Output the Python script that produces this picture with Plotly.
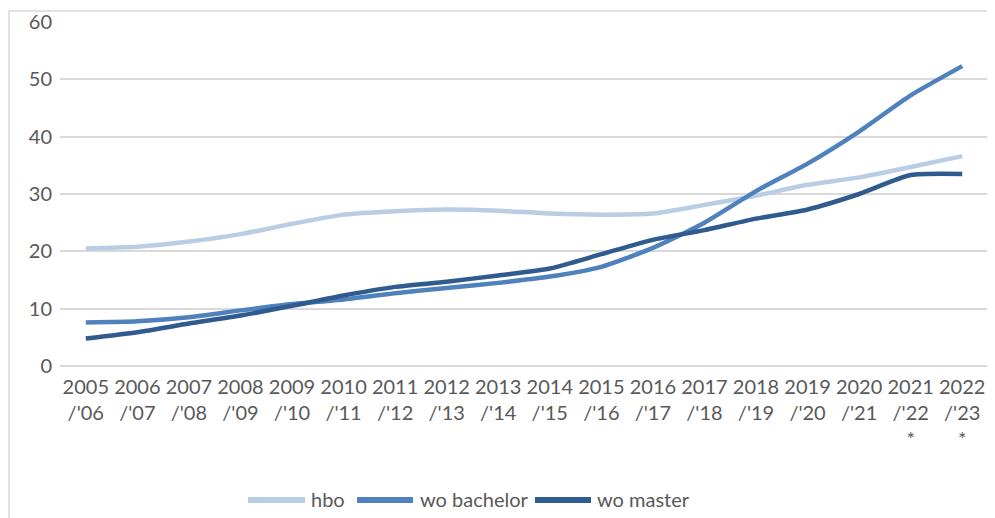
import plotly.graph_objects as go

years = ["2005<br>/'06", "2006<br>/'07", "2007<br>/'08", "2008<br>/'09", "2009<br>/'10",
         "2010<br>/'11", "2011<br>/'12", "2012<br>/'13", "2013<br>/'14", "2014<br>/'15",
         "2015<br>/'16", "2016<br>/'17", "2017<br>/'18", "2018<br>/'19", "2019<br>/'20",
         "2020<br>/'21", "2021<br>/'22<br>*", "2022<br>/'23<br>*"]

hbo = [20.5, 20.8, 21.7, 23.0, 24.8, 26.4, 27.0, 27.3, 27.1, 26.6, 26.4, 26.6,
       28.1, 29.7, 31.6, 32.9, 34.7, 36.6]
wo_bachelor = [7.6, 7.8, 8.5, 9.7, 10.8, 11.6, 12.7, 13.6, 14.5, 15.6, 17.3, 20.6,
               25.0, 30.5, 35.3, 40.9, 47.2, 52.3]
wo_master = [4.8, 5.9, 7.4, 8.8, 10.5, 12.3, 13.8, 14.7, 15.8, 17.0, 19.5, 22.0,
             23.7, 25.7, 27.3, 30.0, 33.3, 33.5]

series = [("hbo", hbo, "#B9CDE5"), ("wo bachelor", wo_bachelor, "#4F81BD"),
          ("wo master", wo_master, "#2F5B8F")]

# figure geometry (the page adds an 8px body margin)
OFF = 8
FW, FH = 995, 518
L, R, T, B = 52, 15, 14, 160
W, H = FW - L - R, FH - T - B

def px(x):  # screen pixel -> paper x
    return (x - OFF - L) / W

def py(y):  # screen pixel -> paper y
    return (FH - B - (y - OFF)) / H

fig = go.Figure()
for name, vals, col in series:
    fig.add_trace(go.Scatter(x=years, y=vals, name=name, mode="lines", showlegend=False,
                             line=dict(color=col, width=4.5, shape="spline", smoothing=0.6)))

shapes = [dict(type="rect", xref="paper", yref="paper", x0=px(9), x1=1.1,
               y0=-0.7, y1=py(11), line=dict(color="#D9D9D9", width=1.5), layer="below")]
annotations = []
legend_pos = [(248, 305, 309), (357, 413, 418), (535, 591, 595)]
ly = 500
for (name, _, col), (x0, x1, xt) in zip(series, legend_pos):
    shapes.append(dict(type="line", xref="paper", yref="paper", x0=px(x0), x1=px(x1),
                       y0=py(ly), y1=py(ly), line=dict(color=col, width=6)))
    annotations.append(dict(text=name, xref="paper", yref="paper", x=px(xt), y=py(ly - 1),
                            xanchor="left", yanchor="middle", showarrow=False,
                            font=dict(size=20, color="#595959")))

fig.update_layout(
    width=FW, height=FH,
    margin=dict(l=L, r=R, t=T, b=B, autoexpand=False),
    paper_bgcolor="white", plot_bgcolor="white",
    font=dict(family="Lato", size=20, color="#595959"),
    showlegend=False,
    xaxis=dict(type="category", range=[-0.5, 17.5], showgrid=False, showline=False, ticks="",
               tickfont=dict(size=20, color="#595959"), tickangle=0, fixedrange=True,
               ticklabelstandoff=7, automargin=False),
    yaxis=dict(range=[0, 60], dtick=10, showgrid=True, gridcolor="#D9D9D9", gridwidth=1.5,
               zeroline=True, zerolinecolor="#D9D9D9", zerolinewidth=1.5,
               showline=False, ticks="", tickfont=dict(size=20, color="#595959"),
               ticklabelstandoff=7, automargin=False),
    shapes=shapes,
    annotations=annotations,
)

fig.write_html("out.html")
